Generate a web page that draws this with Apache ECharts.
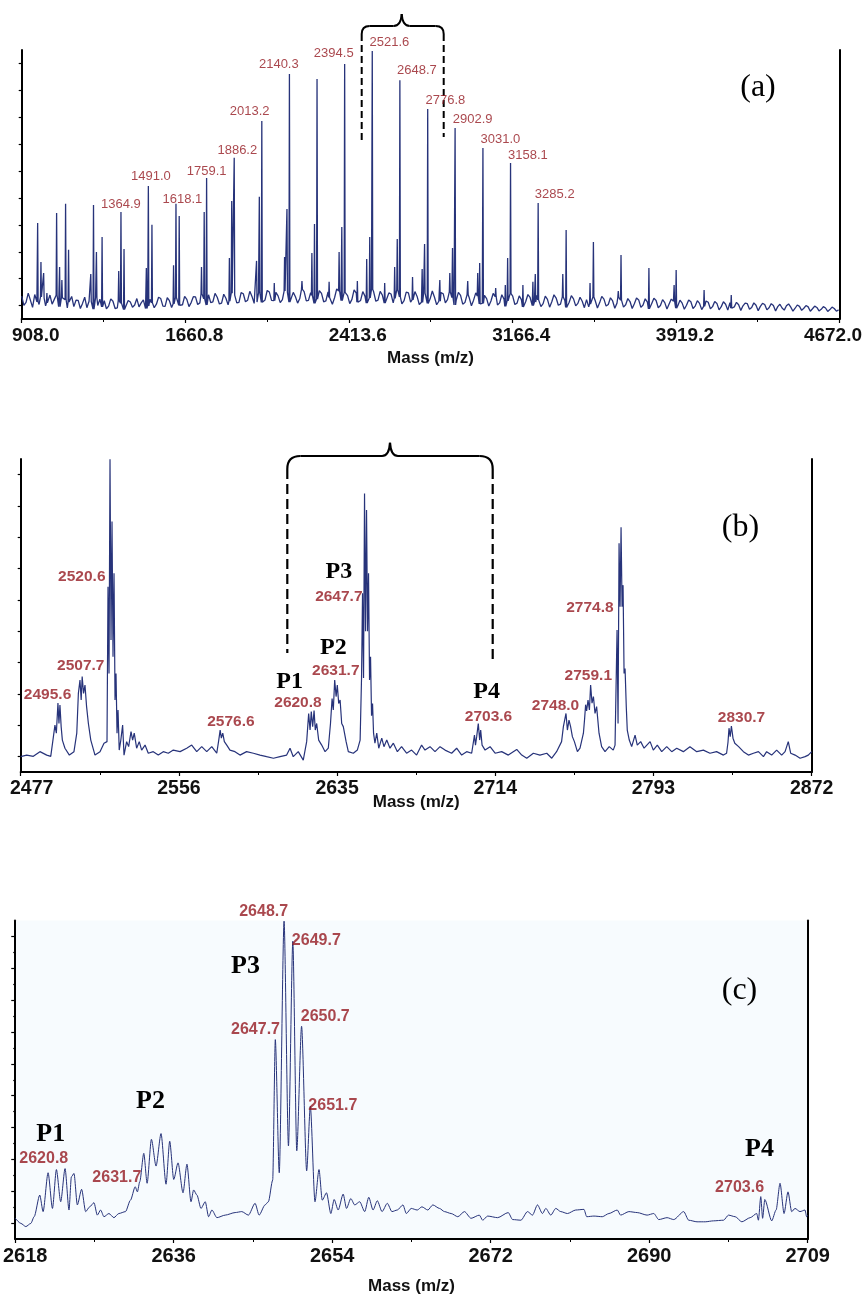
<!DOCTYPE html>
<html>
<head>
<meta charset="utf-8">
<script src="https://cdn.jsdelivr.net/npm/echarts@6/dist/echarts.min.js"></script>
<style>
  html, body { margin: 0; padding: 0; background: #fff; }
  #chart { width: 865px; height: 1296px; }
</style>
</head>
<body>
<div id="chart"></div>
<script>
// ---------- Panel (a): full MALDI spectrum 908–4672 m/z ----------
// baseline intensity sampled every 10 m/z starting at 908
const baseStartA = 908;
const baseStepA = 10;
const baselineA = [
  8.5,5.1,6.2,9.6,7.0,4.3,9.1,6.4,5.4,8.2,7.8,4.9,6.0,8.9,5.5,7.3,8.8,4.6,5.1,7.9,
  7.2,4.1,6.3,8.4,4.6,7.0,6.9,3.9,5.8,8.1,4.2,6.6,6.5,3.7,7.9,5.0,7.4,4.5,6.8,3.8,
  4.8,7.5,6.6,3.9,4.1,6.8,5.9,3.5,3.8,6.9,6.3,4.4,5.2,7.6,4.5,6.0,7.1,3.9,4.9,7.3,
  6.0,4.2,5.5,8.1,7.6,4.8,4.7,7.9,6.8,4.3,5.6,8.0,8.0,5.1,5.3,8.4,7.3,4.6,6.1,8.3,
  8.2,5.4,6.0,9.3,7.5,5.2,9.0,6.1,6.4,9.5,8.1,5.6,5.9,9.2,7.7,5.3,6.6,9.6,8.9,6.0,
  6.2,9.8,9.4,6.4,7.0,10.3,8.4,5.8,6.3,9.7,9.2,6.2,7.1,10.6,10.0,6.9,6.8,9.9,8.6,6.1,
  7.2,10.4,9.8,6.3,6.5,9.9,8.3,5.9,7.6,11.0,10.2,6.7,6.9,9.8,8.8,5.8,7.4,10.5,9.5,6.4,
  6.7,10.1,8.0,5.5,7.9,11.2,10.4,6.8,6.6,9.9,8.7,5.7,7.3,10.8,9.6,6.2,6.9,10.2,8.5,5.9,
  7.8,11.0,10.1,6.6,7.0,10.3,8.9,5.9,6.4,9.7,9.3,6.0,7.7,10.9,8.2,5.6,6.8,10.0,9.7,6.3,
  7.1,10.2,8.4,5.4,6.2,9.6,9.0,5.8,7.5,10.4,8.1,5.3,6.6,9.8,9.4,6.0,7.2,10.1,8.0,5.2,
  6.9,9.9,8.8,5.5,6.1,9.0,7.9,4.9,7.0,9.7,8.6,5.6,5.8,8.8,7.6,4.8,6.7,9.5,8.3,5.2,
  6.0,9.0,7.4,4.7,6.8,9.4,8.5,5.4,5.9,8.6,7.2,4.5,6.5,9.1,8.0,5.0,6.3,8.8,7.1,4.6,
  5.7,8.5,7.3,4.4,6.4,9.0,7.8,5.1,5.5,8.2,6.9,4.3,6.2,8.7,7.5,4.9,5.8,8.1,6.6,4.2,
  7.2,4.5,5.6,8.2,6.8,4.1,6.0,8.4,7.4,4.8,5.4,7.9,6.7,4.0,5.9,8.0,7.0,4.4,5.3,7.6,
  6.5,3.9,5.7,7.8,7.1,4.3,5.2,7.5,6.3,3.8,5.8,7.7,6.9,4.2,5.0,7.2,6.1,3.7,5.6,7.4,
  6.6,4.0,4.9,7.0,5.9,3.6,5.1,7.1,6.4,3.9,4.8,6.8,5.8,3.5,4.7,6.7,6.2,3.8,4.6,6.5,
  5.8,3.4,4.6,6.4,5.5,3.3,6.1,4.0,4.5,6.2,5.3,3.2,4.9,5.9,5.7,3.6,4.3,6.0,5.1,3.1,
  4.7,5.8,5.4,3.4,4.2,5.7,5.0,3.0,4.6,5.5,4.1,3.3,4.9,5.6,4.4,2.9,4.0,5.2,4.7,3.2,
  4.0,5.0,4.5,2.9,3.8,4.8,4.3,3.0,3.6,4.6,4.1,2.8,3.5,4.4,3.9,2.9,3.4
];
// peak apexes [m/z, intensity]
const peaksA = [
  [981.4,35.7],[996.6,21.2],[1009,17.1],[1024,9.7],
  [1068.7,39.4],[1082.4,19.3],[1093,14.5],[1110,42.8],[1123.7,25.7],
  [1226,16.7],[1238.5,42.4],[1252,24.9],[1278,30.5],
  [1354.6,17.8],[1364.9,39.8],[1379,26.0],
  [1481.8,19.0],[1491.0,49.4],[1507.5,35.0],
  [1607,20.0],[1618.1,42.8],[1633,38.3],
  [1735.6,19.3],[1748,39.8],[1759.1,52.4],
  [1864,22.7],[1874.7,43.9],[1886.2,59.9],
  [1989,21.6],[2001.8,45.4],[2013.2,73.6],
  [2070.6,13.4],[2118,23.0],[2129,40.9],[2140.3,91.1],
  [2198,14.1],[2243.7,24.5],[2255.7,35.3],[2267.4,89.2],
  [2323,13.8],[2369,24.9],[2381.4,34.2],[2394.5,94.8],
  [2453,14.1],[2496,22.3],[2510,30.5],[2521.6,99.6],
  [2578.8,13.4],[2624.7,19.3],[2636.6,29.7],[2648.7,88.8],
  [2707,15.6],[2751.3,18.6],[2762.4,27.9],[2776.8,78.1],
  [2832.6,14.5],[2878.5,17.1],[2891,26.4],[2902.9,71.0],
  [2961,14.1],[3007,17.1],[3016,20.8],[3031.0,63.6],
  [3089.7,11.5],[3134,12.6],[3144.7,22.7],[3158.1,58.0],
  [3215,12.6],[3261,13.8],[3272,16.7],[3285.2,43.1],
  [3398.6,16.7],[3414,33.1],
  [3524,13.4],[3539.5,28.6],
  [3654,10.4],[3666.6,23.8],
  [3795,19.0],
  [3911,12.6],[3920.4,18.2],
  [4049,10.8],
  [4174,8.9]
];
const labelsA = [1364.9,1491.0,1618.1,1759.1,1886.2,2013.2,2140.3,2394.5,2521.6,2648.7,2776.8,2902.9,3031.0,3158.1,3285.2];
const ticksA = [908.0,1660.8,2413.6,3166.4,3919.2,4672.0];

// ---------- Panel (b): zoom 2477–2872 m/z ----------
const traceB = [
  [2477.0,4.9],[2480.0,5.4],[2483.3,5.0],[2486.6,6.5],[2490.0,5.4],[2492.0,5.0],
  [2493.0,9.7],[2494.1,15.0],[2494.8,12.4],[2495.6,22.0],[2496.1,15.5],[2496.6,21.4],[2497.2,14.5],[2497.8,10.2],[2499.1,7.6],[2501.3,5.4],[2503.6,6.5],
  [2505.0,12.4],[2505.8,25.1],[2506.6,29.4],[2507.2,23.0],[2507.7,30.5],[2508.4,25.1],[2509.1,27.8],[2509.9,20.9],[2510.8,15.5],[2512.0,10.2],[2514.1,5.4],[2516.6,6.5],[2518.6,9.2],
  [2520.1,9.7],[2520.6,59.2],[2521.1,31.5],[2521.6,99.9],[2522.1,42.2],[2522.6,80.0],[2523.1,36.8],[2523.6,63.5],[2524.1,23.0],[2524.6,31.5],[2525.1,12.4],[2525.6,19.8],[2526.2,7.0],
  [2527.0,10.2],[2527.9,15.0],[2528.6,5.4],[2529.9,9.7],[2530.9,8.1],[2532.1,12.9],[2532.9,10.2],[2533.7,12.4],[2534.9,7.6],[2536.2,9.7],[2537.4,7.0],[2539.1,8.6],[2540.7,6.0],
  [2543.2,6.5],[2545.7,5.4],[2548.2,6.5],[2550.7,6.0],[2553.2,7.0],[2556.6,6.5],[2559.9,7.6],[2562.4,8.6],[2564.9,6.5],[2567.4,8.1],[2569.9,6.5],[2572.4,8.1],[2574.9,6.0],
  [2575.9,10.2],[2576.6,13.4],[2577.2,10.8],[2577.9,12.4],[2578.7,9.7],[2579.9,8.6],[2581.5,7.0],[2584.0,6.5],[2586.5,5.4],[2589.8,6.5],[2593.2,6.0],[2596.5,5.4],
  [2599.8,4.9],[2603.2,4.4],[2606.5,4.9],[2609.8,5.4],[2611.5,7.6],[2613.1,4.9],[2615.6,6.5],[2618.1,3.8],
  [2619.8,9.7],[2620.8,18.7],[2621.5,13.4],[2622.1,19.3],[2622.8,14.5],[2623.5,19.6],[2624.1,13.4],[2624.8,15.5],[2625.8,10.2],[2627.3,8.6],[2629.0,6.5],[2630.6,7.6],
  [2631.7,15.5],[2632.5,23.5],[2633.1,19.8],[2633.8,29.4],[2634.5,24.1],[2635.1,27.8],[2635.8,21.9],[2636.5,23.0],[2637.3,15.5],[2638.1,14.5],[2639.5,9.7],[2640.6,6.5],[2643.1,6.0],[2645.1,7.0],
  [2646.5,10.2],[2647.2,30.0],[2647.7,57.1],[2648.2,30.0],[2648.7,89.0],[2649.2,45.0],[2649.7,83.7],[2650.2,45.0],[2650.7,63.5],[2651.2,29.4],[2651.7,36.8],[2652.2,18.0],[2652.7,21.9],[2653.2,12.4],
  [2653.9,9.2],[2654.8,12.4],[2655.8,7.6],[2657.3,10.8],[2658.4,8.1],[2659.8,10.2],[2661.4,7.6],[2663.1,9.2],[2665.1,6.5],[2667.2,8.1],[2669.7,6.0],[2672.2,7.0],[2674.7,5.4],
  [2677.2,8.6],[2678.9,7.0],[2681.4,8.1],[2683.9,6.5],[2686.4,8.1],[2688.9,7.0],[2692.2,6.0],[2694.7,7.6],[2697.2,5.4],[2699.7,6.5],[2702.2,6.0],
  [2703.6,11.8],[2704.1,8.6],[2704.7,11.3],[2705.5,15.5],[2706.2,10.2],[2706.7,13.4],[2707.4,8.6],[2708.9,7.0],[2711.4,8.1],[2713.9,6.0],[2717.2,6.5],[2720.5,5.4],
  [2724.7,7.2],[2727.2,5.4],[2729.7,4.4],[2733.0,6.0],[2736.3,5.4],[2739.7,6.0],[2742.2,4.4],[2744.6,6.5],
  [2747.1,9.7],[2748.0,14.5],[2749.3,18.7],[2750.0,13.4],[2750.8,16.6],[2751.6,14.5],[2752.5,11.3],[2753.5,9.7],[2755.0,6.5],[2756.3,7.6],
  [2758.0,12.4],[2758.6,17.0],[2759.1,21.5],[2759.6,19.5],[2760.3,23.0],[2761.0,19.8],[2761.6,27.8],[2762.3,22.0],[2763.0,24.1],[2763.8,18.7],[2764.6,20.9],[2765.8,12.4],
  [2767.1,8.1],[2768.8,6.5],[2770.9,8.1],[2772.9,7.0],[2773.8,8.6],
  [2774.8,45.4],[2775.3,15.5],[2775.8,73.1],[2776.3,52.8],[2776.8,78.2],[2777.3,52.8],[2777.8,59.7],[2778.3,31.5],[2778.8,33.1],[2779.4,20.9],[2779.9,13.4],
  [2780.9,10.2],[2782.1,8.1],[2783.8,11.8],[2784.9,8.6],[2786.6,9.7],[2788.3,7.6],[2791.3,9.7],[2792.9,7.0],[2794.9,8.6],[2797.1,6.5],[2799.6,8.1],[2802.1,6.5],
  [2804.6,7.6],[2807.9,6.5],[2811.2,8.1],[2814.6,6.5],[2817.9,7.0],[2821.2,6.0],[2824.5,6.5],[2827.9,5.4],[2829.5,6.0],
  [2830.2,9.5],[2830.7,14.0],[2831.3,11.3],[2831.9,14.7],[2832.7,10.8],[2833.6,9.2],[2835.5,8.1],[2837.9,6.5],[2840.4,5.4],[2842.9,6.0],[2845.4,6.5],[2847.9,4.9],
  [2849.5,6.5],[2852.0,5.4],[2854.5,7.0],[2857.0,5.4],[2858.7,6.5],[2860.3,9.7],[2861.5,6.0],[2863.7,5.4],[2866.2,4.4],[2868.7,4.9],[2870.3,5.4],[2872.0,6.5]
];
const labelsB = [2495.6,2507.7,2520.6,2576.6,2620.8,2631.7,2647.7,2703.6,2748.0,2759.1,2774.8,2830.7];
const ticksB = [2477,2556,2635,2714,2793,2872];

// ---------- Panel (c): zoom 2618–2709 m/z ----------
const traceC = [
  [2618.0,6.5],[2618.64,4.9],[2619.21,3.9],[2619.78,4.9],[2620.16,7.0],[2620.8,13.8],[2621.18,8.6],[2621.75,20.8],[2622.25,9.6],[2622.7,21.8],[2623.19,11.7],[2623.69,22.1],
  [2624.14,9.1],[2624.41,19.5],[2624.71,20.6],[2625.09,10.7],[2625.58,15.6],[2626.04,8.6],[2626.5,10.1],[2626.99,11.4],[2627.37,7.5],[2627.75,9.1],[2628.13,7.0],[2628.7,8.0],
  [2629.27,6.7],[2629.83,8.0],[2630.59,8.6],[2631.16,12.2],[2631.7,16.4],[2631.95,14.8],[2632.22,18.0],[2632.68,26.9],[2633.06,17.5],[2633.55,31.3],[2634.08,22.9],[2634.65,33.1],
  [2635.22,17.2],[2635.64,30.7],[2636.1,18.7],[2636.59,23.9],[2637.16,14.5],[2637.61,23.5],[2638.07,11.7],[2638.37,15.4],[2638.75,13.8],[2639.21,9.6],[2639.7,11.7],[2640.08,7.0],
  [2640.46,9.1],[2641.03,6.7],[2641.98,7.5],[2643.11,8.3],[2643.87,8.6],[2644.63,7.5],[2645.39,11.2],[2645.85,7.5],[2646.53,10.7],[2646.91,11.7],
  [2647.4,18.5],[2647.7,62.6],[2648.15,20.8],[2648.7,99.8],[2649.2,29.2],[2649.7,93.5],[2650.15,27.7],[2650.7,66.8],[2651.28,21.4],[2651.7,41.7],[2652.23,11.7],[2652.69,21.8],
  [2653.06,12.2],[2653.55,14.5],[2654.04,8.0],[2654.42,12.4],[2654.88,9.1],[2655.45,14.1],[2655.83,9.6],[2656.32,12.7],[2656.77,10.7],[2657.34,11.7],[2657.91,8.6],[2658.37,13.1],
  [2658.86,9.1],[2659.35,12.0],[2659.89,8.6],[2660.49,11.2],[2661.02,8.6],[2661.63,9.1],[2662.28,10.7],[2662.66,8.0],[2663.22,9.6],[2663.91,9.1],[2664.44,10.1],
  [2665.12,9.1],[2665.69,10.7],[2666.45,9.6],[2667.02,8.6],[2667.78,8.0],[2668.54,7.0],[2669.3,8.6],[2670.05,6.5],[2671.0,7.5],[2671.38,5.9],[2671.95,7.2],[2673.09,6.7],
  [2674.3,8.3],[2674.8,6.1],[2675.75,5.9],[2676.5,8.6],[2677.07,7.5],[2677.64,10.7],[2678.21,8.0],[2678.59,9.6],[2679.16,7.5],[2679.73,9.6],[2680.3,8.6],[2681.06,8.0],
  [2682.01,9.1],[2682.95,9.3],[2683.26,7.0],[2684.09,7.2],[2685.04,7.0],[2685.8,8.0],[2686.75,9.1],[2687.13,7.5],[2688.08,8.6],[2689.03,8.3],[2690.16,7.5],[2690.92,8.0],
  [2691.49,6.1],[2692.44,6.7],[2693.2,6.1],[2694.34,8.6],[2694.91,5.9],[2695.86,5.4],[2696.8,5.4],[2697.75,5.7],[2698.89,5.9],[2699.46,7.5],[2700.22,7.0],[2700.98,5.4],
  [2701.93,6.7],[2702.68,8.0],[2702.87,5.9],[2703.14,13.3],[2703.35,6.5],[2703.6,12.4],[2704.39,5.7],[2704.89,9.1],[2705.34,17.5],[2705.8,8.0],[2706.25,14.8],[2706.67,8.6],
  [2707.05,9.6],[2707.62,8.6],[2708.19,9.1],[2708.38,7.0],[2708.5,7.5]
];
const labelsC = [2620.8,2631.7,2647.7,2648.7,2649.7,2650.7,2651.7,2703.6];
const ticksC = [2618,2636,2654,2672,2690,2709];

// ---------- styling (kept apart from the data above) ----------
const LINE = '#27337a';
const RED = '#951a22';
const SANS = '"Liberation Sans", Arial, Helvetica, sans-serif';
const SERIF = '"Liberation Serif", "Times New Roman", serif';
// pixel offsets from each labelled apex to the centre of its text
const offsetsA = [[0,-7.6],[2.6,-9.4],[6.4,-4.9],[0,-6.3],[3.1,-7.6],[-12.1,-9.7],[-10.6,-9.2],[-10.9,-10.2],[17.2,-9.1],[17.1,-9.3],[17.7,-8.1],[17.5,-8.7],[17.5,-8.6],[17.3,-8],[16.6,-8.8]];
const offsetsB = [[-10.4,-8.1],[-1.4,-10.5],[-26.2,-9.7],[10.7,-8.1],[-10.7,-10.5],[5.3,-53],[-23.7,3.7],[14,-18.1],[-7.9,-21.1],[2.7,-29.2],[-27.2,-22.4],[12.5,-10.7]];
const offsetsC = [[4,-36.7],[-18.4,-8.9],[-19.8,-10.5],[-20.4,-9.6],[23.5,-0.7],[23.7,-9.9],[22.5,-0.7],[-25.2,-12.2]];

// assemble panel (a): baseline samples plus narrow peaks rising from the local baseline
function buildSpectrumA() {
  const pts = [];
  baselineA.forEach((v, i) => {
    const m = baseStartA + i * baseStepA;
    if (!peaksA.some(p => Math.abs(p[0] - m) < 3)) pts.push([m, v]);
  });
  peaksA.forEach(([m, h]) => {
    const b = baselineA[Math.min(baselineA.length - 1, Math.round((m - baseStartA) / baseStepA))];
    pts.push([m - 2.2, b], [m, h], [m + 2.2, b]);
  });
  pts.sort((a, b) => a[0] - b[0]);
  return pts;
}
const spectrumA = buildSpectrumA();

function labelPoints(masses, source, offsets) {
  return masses.map((m, i) => {
    const hit = source.find(p => Math.abs(p[0] - m) < 1e-6);
    return { value: [m, hit ? hit[1] : 0], label: { offset: offsets[i] } };
  });
}

function xAxisFor(grid, ticks, fontSize, digits, firstPad, midPad, lastPad, nameGap) {
  const min = ticks[0], max = ticks[ticks.length - 1];
  const step = ticks[1] - ticks[0];
  const tok = (pad) => ({ fontSize, fontWeight: 'bold', fontFamily: SANS, color: '#111', padding: pad });
  return {
    type: 'value', gridIndex: grid, min, max, interval: step,
    axisLine: { show: true, onZero: false, lineStyle: { color: '#000', width: 2 } },
    axisTick: { show: true, inside: false, length: 4, lineStyle: { color: '#000', width: 1.2 } },
    minorTick: { show: true, splitNumber: 2, length: 3, lineStyle: { color: '#000', width: 1 } },
    splitLine: { show: false },
    axisLabel: {
      margin: 7,
      showMinLabel: true, showMaxLabel: true,
      formatter: (v) => {
        const txt = digits ? v.toFixed(digits) : String(Math.round(v));
        if (Math.abs(v - min) < 1e-6) return '{f|' + txt + '}';
        if (Math.abs(v - max) < 1e-6) return '{l|' + txt + '}';
        return '{m|' + txt + '}';
      },
      rich: { f: tok(firstPad), m: tok(midPad), l: tok(lastPad) }
    },
    name: 'Mass (m/z)', nameLocation: 'middle', nameGap, nameMoveOverlap: false,
    nameTextStyle: { fontSize: 17, fontWeight: 'bold', fontFamily: SANS, color: '#111' }
  };
}

function leftAxis(grid, values, len) {
  return {
    type: 'value', gridIndex: grid, min: 0, max: 100, position: 'left',
    axisLine: { show: true, lineStyle: { color: '#000', width: 2 } },
    axisTick: { show: true, inside: false, length: len, customValues: values, lineStyle: { color: '#000', width: 1.2 } },
    axisLabel: { show: false }, splitLine: { show: false }
  };
}
function rightAxis(grid) {
  return {
    type: 'value', gridIndex: grid, min: 0, max: 100, position: 'right',
    axisLine: { show: true, lineStyle: { color: '#000', width: 2 } },
    axisTick: { show: false }, axisLabel: { show: false }, splitLine: { show: false }
  };
}

const oddTicks = [5,15,25,35,45,55,65,75,85,95];
const evenTicks = [10,20,30,40,50,60,70,80,90];

function labelSeries(xi, yi, data, fontSize, weight, family) {
  return {
    type: 'scatter', xAxisIndex: xi, yAxisIndex: yi, data,
    symbolSize: 1, itemStyle: { color: 'rgba(0,0,0,0)' }, silent: true, z: 5,
    label: {
      show: true, position: 'inside', color: RED, fontSize, fontWeight: weight, fontFamily: family,
      formatter: (p) => p.value[0].toFixed(1)
    }
  };
}

// brace drawn above a selected m/z window
function brace(x0, x1, xm, yh, ytip, r, yEnd0, yEnd1, w, dash) {
  const st = { stroke: '#000', fill: null, lineWidth: w };
  const dst = { stroke: '#000', lineWidth: w, lineDash: dash };
  return [
    { type: 'bezierCurve', shape: { x1: x0, y1: yh + r, x2: x0 + r, y2: yh, cpx1: x0, cpy1: yh }, style: st },
    { type: 'line', shape: { x1: x0 + r, y1: yh, x2: xm - 8, y2: yh }, style: st },
    { type: 'bezierCurve', shape: { x1: xm - 8, y1: yh, x2: xm, y2: ytip, cpx1: xm - 0.8, cpy1: yh }, style: st },
    { type: 'bezierCurve', shape: { x1: xm, y1: ytip, x2: xm + 8, y2: yh, cpx1: xm + 0.8, cpy1: yh }, style: st },
    { type: 'line', shape: { x1: xm + 8, y1: yh, x2: x1 - r, y2: yh }, style: st },
    { type: 'bezierCurve', shape: { x1: x1 - r, y1: yh, x2: x1, y2: yh + r, cpx1: x1, cpy1: yh }, style: st },
    { type: 'line', shape: { x1: x0, y1: yh + r, x2: x0, y2: yEnd0 }, style: dst },
    { type: 'line', shape: { x1: x1, y1: yh + r, x2: x1, y2: yEnd1 }, style: dst }
  ];
}
function txt(x, y, text, font) {
  return { type: 'text', x, y, z: 10, style: { text, font, fill: '#000', align: 'center', verticalAlign: 'middle' } };
}

const chart = echarts.init(document.getElementById('chart'), null, { renderer: 'canvas' });
chart.setOption({
  animation: false,
  backgroundColor: '#ffffff',
  grid: [
    { left: 21.7, top: 50, width: 820.3, height: 269 },
    { left: 20.7, top: 459, width: 791, height: 313 },
    { left: 12.7, top: 920.5, width: 795, height: 318.5, show: true, backgroundColor: '#f7fbfe', borderWidth: 0 }
  ],
  xAxis: [
    xAxisFor(0, ticksA, 19, 1, [0,0,0,28], [0,0,0,18], [0,13,0,0], 31),
    xAxisFor(1, ticksB, 19.5, 0, [0,0,0,22], [0,0,0,0], [0,0,0,0], 22),
    Object.assign(xAxisFor(2, ticksC, 20, 0, [0,0,0,20], [0,0,0,0], [0,0,0,0], 39), { min: 2618, max: 2708.5, interval: 18.1 })
  ],
  yAxis: [
    leftAxis(0, oddTicks, 3), rightAxis(0),
    leftAxis(1, oddTicks, 3), rightAxis(1),
    leftAxis(2, oddTicks, 4), rightAxis(2),
    Object.assign(leftAxis(2, evenTicks, 2), { axisLine: { show: false } })
  ],
  series: [
    { type: 'line', xAxisIndex: 0, yAxisIndex: 0, data: spectrumA, showSymbol: false, symbol: 'none',
      lineStyle: { color: LINE, width: 1.3 }, sampling: null, z: 2 },
    { type: 'line', xAxisIndex: 1, yAxisIndex: 2, data: traceB, showSymbol: false, symbol: 'none',
      lineStyle: { color: LINE, width: 1.2 }, z: 2 },
    { type: 'line', xAxisIndex: 2, yAxisIndex: 4, data: traceC, showSymbol: false, symbol: 'none',
      smooth: 0.25, smoothMonotone: 'x', lineStyle: { color: LINE, width: 1 }, z: 2 },
    labelSeries(0, 0, labelPoints(labelsA, peaksA, offsetsA), 13, 'normal', SANS),
    labelSeries(1, 2, labelPoints(labelsB, traceB, offsetsB), 15.5, 'bold', SANS),
    labelSeries(2, 4, labelPoints(labelsC, traceC, offsetsC), 16, 'bold', SANS)
  ],
  graphic: [].concat(
    brace(361.7, 443.7, 401.7, 26, 14, 8, 142, 137, 2, [7, 4]),
    brace(287.3, 492.7, 390, 456, 442.7, 13, 653, 664, 2.2, [10, 5]),
    [
      txt(758, 88, '(a)', '32px ' + SERIF),
      txt(740.5, 528, '(b)', '32px ' + SERIF),
      txt(739.5, 990.5, '(c)', '32px ' + SERIF),
      txt(289.7, 682, 'P1', 'bold 24px ' + SERIF),
      txt(333.3, 648, 'P2', 'bold 24px ' + SERIF),
      txt(338.8, 572, 'P3', 'bold 24px ' + SERIF),
      txt(486.7, 692, 'P4', 'bold 24px ' + SERIF),
      txt(50.7, 1134.7, 'P1', 'bold 26px ' + SERIF),
      txt(150.5, 1101.3, 'P2', 'bold 26px ' + SERIF),
      txt(245.5, 965.8, 'P3', 'bold 26px ' + SERIF),
      txt(759.5, 1149.2, 'P4', 'bold 26px ' + SERIF)
    ]
  )
});
</script>
</body>
</html>
